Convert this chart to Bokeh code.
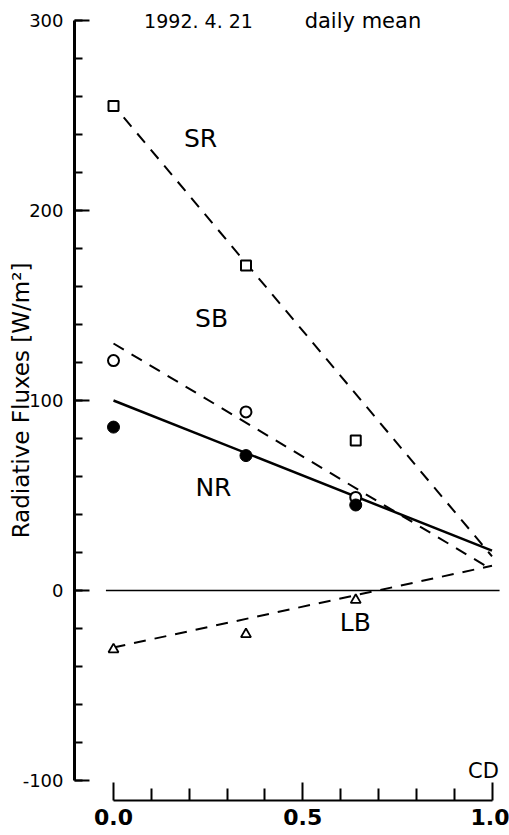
from bokeh.plotting import figure
from bokeh.models import Range1d, LinearAxis, FixedTicker
from bokeh.core.properties import value
from bokeh.embed import file_html
from bokeh.resources import INLINE

# ---- data ----
cd = [0.0, 0.35, 0.64]
sr = [255, 171, 79]
sb = [121, 94, 49]
nr = [86, 71, 45]
lb = [-31, -23, -5]

fit_x = [0.0, 1.0]
sr_fit_x = [0.027, 1.0]
sr_fit = [249, 18]
sb_fit = [130, 11]
nr_fit = [100, 21]
lb_fit = [-30, 13]

zero_x = [-0.02, 1.02]
zero_y = [0, 0]

y_major = [-100, 0, 100, 200, 300]
y_minor = [v for v in range(-100, 301, 20)]
y_labels = {-100: "-100", 0: "0", 100: "100", 200: "200", 300: "300"}
x_major = [0.0, 0.5, 1.0]
x_minor = [0.1, 0.2, 0.3, 0.4, 0.6, 0.7, 0.8, 0.9]
x_labels = {0.0: "0.0", 0.5: "0.5", 1.0: "1.0"}

FONT = "DejaVu Sans"

p = figure(width=509, height=835, output_backend="svg", toolbar_location=None,
           x_range=Range1d(-113 / 378.5, (509 - 113) / 378.5),
           y_range=Range1d(-(835 - 590) / 1.9, 590 / 1.9),
           x_axis_location=None, y_axis_location=None,
           min_border=0)
p.outline_line_color = None
p.grid.visible = False
p.background_fill_color = "white"
p.border_fill_color = "white"

# y axis
yax = LinearAxis(fixed_location=(74 - 113) / 378.5, bounds=(-100, 300),
                 ticker=FixedTicker(ticks=y_major, minor_ticks=y_minor))
yax.major_label_overrides = y_labels
yax.axis_line_width = 3
yax.axis_line_color = "black"
yax.major_tick_in = 15
yax.major_tick_out = 0
yax.minor_tick_in = 8
yax.minor_tick_out = 0
yax.major_tick_line_width = 2
yax.minor_tick_line_width = 2
yax.major_label_text_font = FONT
yax.major_label_text_font_size = "18px"
yax.major_label_text_color = "black"
yax.major_label_standoff = 11
p.add_layout(yax, "left")

# x axis
xax = LinearAxis(fixed_location=-(800 - 590) / 1.9, bounds=(0, 1),
                 ticker=FixedTicker(ticks=x_major, minor_ticks=x_minor))
xax.major_label_overrides = x_labels
xax.axis_line_width = 2
xax.axis_line_color = "black"
xax.major_tick_in = 18
xax.major_tick_out = 0
xax.minor_tick_in = 12
xax.minor_tick_out = 0
xax.major_tick_line_width = 2
xax.minor_tick_line_width = 2
xax.major_label_text_font = FONT
xax.major_label_text_font_size = "22px"
xax.major_label_text_font_style = "bold"
xax.major_label_text_color = "black"
xax.major_label_standoff = 8
p.add_layout(xax, "below")

# zero line
p.line(zero_x, zero_y, line_color="black", line_width=1.5)

# fit lines
DASH = "12 9"
p.line(sr_fit_x, sr_fit, line_color="black", line_width=2, line_dash=DASH)
p.line(fit_x, sb_fit, line_color="black", line_width=2, line_dash=DASH)
p.line(fit_x, lb_fit, line_color="black", line_width=2, line_dash=DASH)
p.line(fit_x, nr_fit, line_color="black", line_width=2.5)

# markers
p.scatter(cd, sr, marker="square", size=10, fill_color="white", line_color="black", line_width=2)
p.scatter(cd, sb, marker="circle", size=11, fill_color="white", line_color="black", line_width=2)
p.scatter(cd, nr, marker="circle", size=12, fill_color="black", line_color="black", line_width=1)
p.scatter(cd, lb, marker="triangle", size=10, fill_color="white", line_color="black", line_width=1.8)

# series labels
p.text(x=[0.230, 0.259, 0.264, 0.639], y=[238, 143, 54, -17],
       text=["SR", "SB", "NR", "LB"], text_font=value(FONT), text_font_size="25px",
       text_align="center", text_baseline="middle", text_color="black")

# title texts
p.text(x=[0.2246], y=[300], text=["1992. 4. 21"], text_font=value(FONT),
       text_font_size="19px", text_align="center", text_baseline="middle", text_color="black")
p.text(x=[0.659], y=[300], text=["daily mean"], text_font=value(FONT),
       text_font_size="21px", text_align="center", text_baseline="middle", text_color="black")
p.text(x=[0.9775], y=[-95], text=["CD"], text_font=value(FONT),
       text_font_size="21px", text_align="center", text_baseline="middle", text_color="black")

# y axis title
p.text(x=[-0.2457], y=[100], text=["Radiative Fluxes [W/m²]"], text_font=value(FONT),
       text_font_size="23px", text_align="center", text_baseline="middle",
       angle=1.5708, text_color="black")

open("out.html", "w").write(file_html(p, INLINE))
